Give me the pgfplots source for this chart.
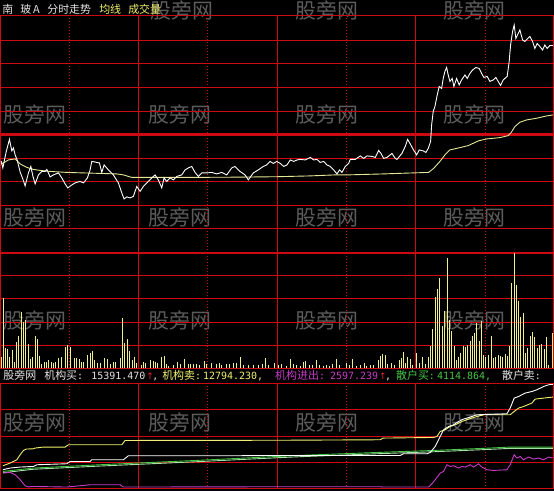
\documentclass[border=0pt]{standalone}
\usepackage{pgfplots}
\pgfplotsset{compat=1.18}
\usepackage{fontspec}
\setmainfont{DejaVu Sans}
\newfontfamily\cjk{Noto Sans CJK SC}
\newfontfamily\mono{DejaVu Sans Mono}
\newfontfamily\sym{DejaVu Sans}

\definecolor{gridred}{RGB}{205,10,20}
\definecolor{wm}{RGB}{92,92,92}
\definecolor{avgyel}{RGB}{230,230,150}
\definecolor{volyel}{RGB}{240,240,140}
\definecolor{txtyel}{RGB}{240,240,110}
\definecolor{txtwht}{RGB}{228,228,228}
\definecolor{mag}{RGB}{200,60,200}
\definecolor{grn}{RGB}{70,200,70}
\definecolor{ltgrn}{RGB}{165,225,165}
\definecolor{arrred}{RGB}{230,40,40}

% panels share the time axis; the grid is drawn by \panelgrid
\pgfplotsset{
  panel/.style={
    scale only axis, width=553bp,
    xmin=0.5, xmax=553.5,
    axis line style={draw=gridred, line width=1.3bp},
    xtick=\empty, ytick=\empty,
  },
}
% vertical grid: solid every hour, dotted every half hour; #3 = horizontal lines
\newcommand{\panelgrid}[3]{%
  \pgfplotsinvokeforeach{138.5,277.5,415.5}{%
    \draw[gridred, line width=1.3bp] (axis cs:##1,#1) -- (axis cs:##1,#2);}%
  \pgfplotsinvokeforeach{69.5,207.5,346.5,485.5}{%
    \draw[gridred, line width=1.2bp, dash pattern=on 1bp off 2bp] (axis cs:##1,#1) -- (axis cs:##1,#2);}%
  \pgfplotsinvokeforeach{#3}{%
    \draw[gridred, line width=1.3bp] (axis cs:0.5,##1) -- (axis cs:553.5,##1);}%
}
\newcommand{\lbl}[1]{{\fontsize{11}{11}\selectfont\cjk #1}{\mono\fontsize{10}{10}\selectfont:}}
\newcommand{\num}[1]{{\mono\fontsize{10}{10}\selectfont #1}}

\begin{document}
\begin{tikzpicture}
\fill[black] (0,0) rectangle (554bp,-491bp);

\begin{scope}[x=1bp,y=-1bp]
  % watermark
  \foreach \xx/\yy in {150/10,295/10,443/10,
                       3/115,148/115,295/115,443/115,
                       3/218,148/218,295/218,443/218,
                       3/321,148/321,295/321,443/321,
                       3/423,148/423,295/423,443/423}{
    \node[anchor=west, inner sep=0, text=wm] at (\xx,\yy)
      {\fontsize{21}{21}\selectfont\cjk 股旁网};
  }
  % title
  \node[anchor=base west, inner sep=0, text=txtwht] at (2,13.5) {\fontsize{11}{11}\selectfont\cjk 南};
  \node[anchor=base west, inner sep=0, text=txtwht] at (20,13.5) {\fontsize{11}{11}\selectfont\cjk 玻\,A};
  \node[anchor=base west, inner sep=0, text=txtwht] at (47,13.5) {\fontsize{11}{11}\selectfont\cjk 分时走势};
  \node[anchor=base west, inner sep=0, text=txtyel] at (99,13.5) {\fontsize{11}{11}\selectfont\cjk 均线};
  \node[anchor=base west, inner sep=0, text=txtyel] at (128,13.5) {\fontsize{11}{11}\selectfont\cjk 成交量};
\end{scope}

% price panel
\begin{axis}[panel, at={(0.5bp,-15.5bp)}, anchor=north west, height=237bp,
  ymin=15.5, ymax=252.5, y dir=reverse]
\panelgrid{15.5}{252.5}{40.5,63.5,87.5,111.5,158.5,181.5,205.5,228.5}
\draw[gridred, line width=3bp] (axis cs:0.5,134.5) -- (axis cs:553.5,134.5);
\addplot[avgyel, line width=0.9bp] coordinates {
(1,164)(3.3,163)(8.3,160)(15,159)(20,164)(26.7,167.5)(33.3,169.5)(40,170.5)
(50,171.5)(66.7,172.5)(83.3,173)(100,173.5)(116.7,174)(123.3,175)(131.7,177.5)
(150,177.5)(185,177.5)(230,177.3)(277,176.8)(310,176)(335,175)(347,175)
(383.7,174)(403.7,173.3)(428.7,172.5)(433.7,168.5)(440,161.5)(445,155)(450,150)
(460,147.7)(468.3,145.7)(478.3,141)(486.7,139)(500,137.7)(508.3,135.7)(511,133)
(515,126.7)(520,122.3)(526.7,120)(536.7,118.3)(546.7,116)(553,115)};
\addplot[white, line width=0.9bp] coordinates {
(1,161)(2.7,168)(6,152)(9.3,139.5)(11.7,151)(13.3,148)(15,155)(17,160)(20,172)
(23,180)(25,186)(28.3,173)(30.7,166.5)(32.7,176)(35,184)(38.3,175)(41.7,171.5)
(45,171.5)(46.7,169.5)(50,177)(53.3,175)(58.3,173)(61.7,178)(65,184)(67.7,188)
(71.7,185)(75,183)(80,181.5)(83.3,183)(87.3,178)(90,170)(91.7,161.5)(96.7,162.5)
(99.3,163)(101.7,172.5)(104,165)(108.3,170)(113.3,175)(118.3,183)(121.7,193)
(124,199)(126.7,197)(130,198)(133.3,196.5)(135,191.5)(136.7,186.5)(140,191.5)
(143.3,186.5)(148.3,181.5)(151.7,178)(155,175)(158.3,180)(161.7,188)(164,178)
(166.7,181.5)(170,178)(173.3,180)(176.7,176.5)(181.7,175)(185,170)(188.3,168)
(191.7,166.5)(195,172.5)(198.3,176.5)(201.7,173)(206.7,173)(211.7,172.5)
(216.7,174)(221.7,172.5)(226.7,175)(231.7,168)(235,166.5)(240,171.5)(245,175)
(248.3,180)(253.3,173)(258.3,170)(263.3,166.5)(266.7,165)(270,161.5)(273.3,163.5)
(276.7,161.5)(280.3,163.5)(283.7,166.5)(287,165)(290.3,160)(293.7,161.5)(297,160)
(300.3,159.5)(305.3,160)(310.3,157.5)(313.7,160)(317,159.5)(320.3,162.5)
(323.7,161.5)(327,165)(330.3,166.5)(333.7,170)(337,174)(339.7,170)(342,172.5)
(345.3,166.5)(348.7,163.5)(350.3,159.5)(355.3,159.5)(360.3,156)(363.7,158.5)
(367,156)(372,156.5)(375.3,157.5)(378.7,150.5)(381,153.5)(383.7,158.5)(387,157.5)
(392,153.5)(395.3,158.5)(397,159.5)(402,153.5)(405.3,146.5)(407.7,139.5)
(410.3,144)(413,149)(416.7,155)(419.3,150)(423.3,151)(426,152.5)(428.3,148.5)
(430.7,141.5)(431.7,125)(433.3,111.5)(435,106.5)(437.3,95)(439.3,86.5)(441.7,88.5)
(443.3,78.5)(445,71.5)(446.7,67.5)(448.3,75)(450,81.5)(452.3,78.5)(454,86.5)
(456.7,78.5)(459.3,85)(461.7,80)(465,75)(467.3,78.5)(470,73.5)(472.7,70)(476,67.5)
(479.3,68.5)(481.7,73.5)(484,77.5)(487.3,76.5)(490,81.5)(493.3,80)(496,77.5)
(498.3,81.5)(500.7,85.5)(503.3,80)(507.3,76.5)(509.3,61.5)(510.7,45)(512.7,31.5)
(514.3,25)(516,38.5)(518.3,33.5)(520,30)(522.7,40)(525,41.5)(527.3,39)(530,36.5)
(532.7,41.5)(535,48.5)(537.3,43.5)(540,46.5)(542.7,50)(545,45)(547.3,48.5)
(550,45.5)(553,45.5)};
\end{axis}

% volume panel
\begin{axis}[panel, at={(0.5bp,-252.5bp)}, anchor=north west, height=116bp,
  ymin=0, ymax=116]
\panelgrid{0}{116}{23,46,70,93}
\draw[gridred, line width=2.6bp] (axis cs:0.5,116) -- (axis cs:553.5,116);
\addplot[ycomb, volyel, line width=1bp] coordinates {
(1.6,11.7)(2.9,70.7)(5.7,20.7)(7.3,19)(9.3,11.7)(12,18.3)(14.7,6.7)(16.7,26.7)
(18.7,32.3)(21,56.7)(23,46.7)(25.3,48.3)(28.3,24.3)(30.3,9)(32.3,11)(35.3,32.3)
(37.3,29.7)(39.3,12.3)(41.3,4)(44.3,6)(46.3,6)(48.7,8.3)(51.3,6.7)(53.3,5)
(55.7,6)(58.7,10.7)(61.3,11)(65.3,21.7)(67.7,23.3)(70,21)(74.7,10)(76.7,10)
(79,9.3)(81,6.7)(83.3,6.7)(87.7,13.3)(90,15)(92,17.3)(94.7,8.3)(97.3,5.7)
(100,5.7)(104.7,10)(107,9)(110,4)(113.3,6.7)(115.7,6)(120.7,10)(122.7,50.7)
(124.7,25.7)(127.3,29.3)(129.7,17.3)(132,8.3)(134.3,11)(136.7,5)(141.7,3.3)
(143.7,6.7)(145.7,5)(150.7,8.3)(153,7.7)(155.3,6)(157,5)(161.3,11)(164,12.7)
(166,4.3)(168.7,2.3)(173.3,3.3)(177.3,6.7)(180.7,4)(184,9)(188.3,4)(190.7,4.3)
(193.3,4.3)(196.7,4.3)(199.3,3.3)(204,7.7)(206.7,4.3)(211.7,5.7)(216,4.3)
(219.3,5)(221.7,3.3)(226.7,4.3)(229.3,4.3)(233.3,5.7)(236,5.7)(240,11.7)
(243.3,3.3)(248.3,3.3)(253.3,3)(258.3,3.3)(262,4.3)(265.7,10)(268.3,3.3)(274,5.7)
(278.7,3.3)(281,4.3)(286.3,2.3)(290.3,9)(293.7,4.3)(296.3,3.3)(301,2.3)(303.7,6)
(306,7.7)(309.7,3.3)(312.7,3.3)(316.3,8.3)(319.3,3.3)(323.7,2.7)(326.3,3.3)
(329.3,2.7)(333,4.3)(336.3,9)(339.7,3.3)(346.3,5.7)(349.7,3.3)(353,9)(357,2.3)
(360.3,3.3)(364.3,5)(367,2.3)(370.3,3.3)(373.7,3.3)(378.7,8.3)(380.7,12.3)
(383,14.3)(385.3,13.3)(387.7,4)(392,5.7)(394.3,3.3)(399.3,8.3)(401.3,10.7)
(403.7,16.7)(406,5.7)(408,11)(410.3,9)(413,3.3)(417,15.7)(419.7,5)(422.7,11)
(425.3,4.3)(429,11)(431,22.3)(433,39)(435.3,71)(437.7,79)(440,90)(442.3,42.3)
(444.7,57.7)(447.3,110.7)(449.7,48.3)(452,37.7)(454.3,22.3)(457,8.3)(459,11)
(461,15)(463.3,22.3)(465.7,21.7)(468,23.3)(470.3,27.7)(472.7,32.3)(475,35.7)
(477,45.7)(479.3,27.3)(481.7,47.3)(483.7,13.3)(486,11.7)(488.3,13.3)(491.3,32.3)
(493.7,10)(496,11.7)(498.3,13.3)(500.7,12.3)(503,11)(505.3,14)(507.7,12.3)
(509.7,22.3)(512,85.7)(514.3,115)(516.3,83.3)(518.7,67.7)(521,51)(523.3,55.7)
(525.7,15)(528,20)(530.3,32.3)(532.7,36.7)(535,31.7)(537.3,20.7)(539.7,23.3)
(542,24.3)(544.3,19)(546.7,31.7)(549,3.3)(552.3,35)};
\end{axis}

% text row between panels
\begin{scope}[x=1bp,y=-1bp]
  \node[anchor=base west, inner sep=0, text=txtwht!85] at (3,379.5) {\fontsize{11}{11}\selectfont\cjk 股旁网};
  \node[anchor=base west, inner sep=0, text=txtwht] at (44,379.5) {\lbl{机构买}};
  \node[anchor=base west, inner sep=0, text=txtwht] at (91,379.5) {\num{15391.470}};
  \node[anchor=base west, inner sep=0, text=arrred] at (146,379.5) {\sym\fontsize{9}{9}\selectfont ↑};
  \node[anchor=base west, inner sep=0, text=txtwht] at (152,379.5) {\num{,}};
  \node[anchor=base west, inner sep=0, text=txtyel] at (162,379.5) {\lbl{机构卖}};
  \node[anchor=base west, inner sep=0, text=txtyel] at (203,379.5) {\num{12794.230,}};
  \node[anchor=base west, inner sep=0, text=mag] at (275,379.5) {\lbl{机构进出}};
  \node[anchor=base west, inner sep=0, text=mag] at (330,379.5) {\num{2597.239}};
  \node[anchor=base west, inner sep=0, text=arrred] at (379,379.5) {\sym\fontsize{9}{9}\selectfont ↑};
  \node[anchor=base west, inner sep=0, text=txtwht] at (385,379.5) {\num{,}};
  \node[anchor=base west, inner sep=0, text=grn] at (396,379.5) {\lbl{散户买}};
  \node[anchor=base west, inner sep=0, text=grn] at (437,379.5) {\num{4114.864,}};
  \node[anchor=base west, inner sep=0, text=txtwht!85] at (502,379.5) {\lbl{散户卖}};
\end{scope}

% institution / retail flow panel
\begin{axis}[panel, at={(0.5bp,-383.5bp)}, anchor=north west, height=105bp,
  ymin=383.5, ymax=488.5, y dir=reverse]
\panelgrid{383.5}{488.5}{409.5,436.5,462.5}
\addplot[ltgrn, line width=0.9bp] coordinates {
(2.7,473)(33.3,469.5)(100,466.3)(200,461.8)(277,458)(298.7,457)(377,454)
(433.7,452)(490.3,449.6)(510.3,448.6)(553,448.6)};
\addplot[grn, line width=0.9bp] coordinates {
(2.7,471.7)(33.3,468.3)(100,465)(200,460.5)(277,456.7)(298.7,455.7)(377,452.7)
(433.7,450.7)(490.3,448.3)(510.3,447.3)(553,447.3)};
\addplot[txtyel, line width=0.9bp] coordinates {
(2.7,466)(10,463.3)(16.7,460)(20,455)(23.3,450.7)(26,449.3)(33.3,449)(35,448.3)
(43.3,447.3)(65,447.3)(68.3,445)(121.7,445)(125,440.7)(277,440.5)(380.3,440)
(383,438.3)(433.7,437.7)(437,436.7)(440.3,431.7)(445.3,430)(450.3,426.7)
(455.3,425)(462,421.7)(468.7,419.3)(477,416.7)(483.7,415)(510.3,415)(514.3,411.7)
(518.7,408.3)(523.7,406.7)(532,403.3)(535.3,399.3)(543.7,398.3)(553,397.3)};
\addplot[white, line width=0.9bp] coordinates {
(2.7,470)(10,468.3)(20,467.3)(33.3,466.7)(36.7,465)(66.7,464)(70,461.7)(90,461.7)
(91.7,460)(123.3,460)(126.7,457.3)(128.3,456)(233.3,456)(277,455.7)(400.3,455.7)
(403.7,454)(427,454)(430.3,452.7)(435.3,446.7)(440.3,436.7)(443.7,430)(448.7,426.7)
(453.7,425)(458.7,421.7)(463.7,419.3)(470.3,417.3)(477,415)(507,414)(510.3,408.3)
(514.3,398.3)(518.7,396.7)(525.3,393.3)(532,391.7)(537,390)(543.7,386.7)
(548.7,385)(553,384.5)};
\addplot[mag, line width=0.9bp] coordinates {
(2.7,473.3)(10,472.7)(15,475)(20,480)(25,486)(28.3,487.2)(33.3,486.7)(66.7,487.3)
(90,485)(120,485)(123.3,487.3)(277,487)(380.3,487)(383.7,487.3)(428.7,487.3)
(432,484)(435.3,480)(440.3,473.3)(443.7,471.7)(447,465)(450.3,466.7)(453.7,466)
(458.7,468.3)(462,466.7)(465.3,467.3)(470.3,465)(473.7,467.3)(478.7,464)
(482,467.3)(487,470)(493.7,470.7)(507,470)(510.3,465)(514.3,455)(517,458.3)
(520.3,456.7)(523.7,460)(528.7,457.3)(533.7,459.3)(538.7,458.3)(543.7,460)
(548.7,457.3)(553,458.3)};
\end{axis}
\end{tikzpicture}
\end{document}
